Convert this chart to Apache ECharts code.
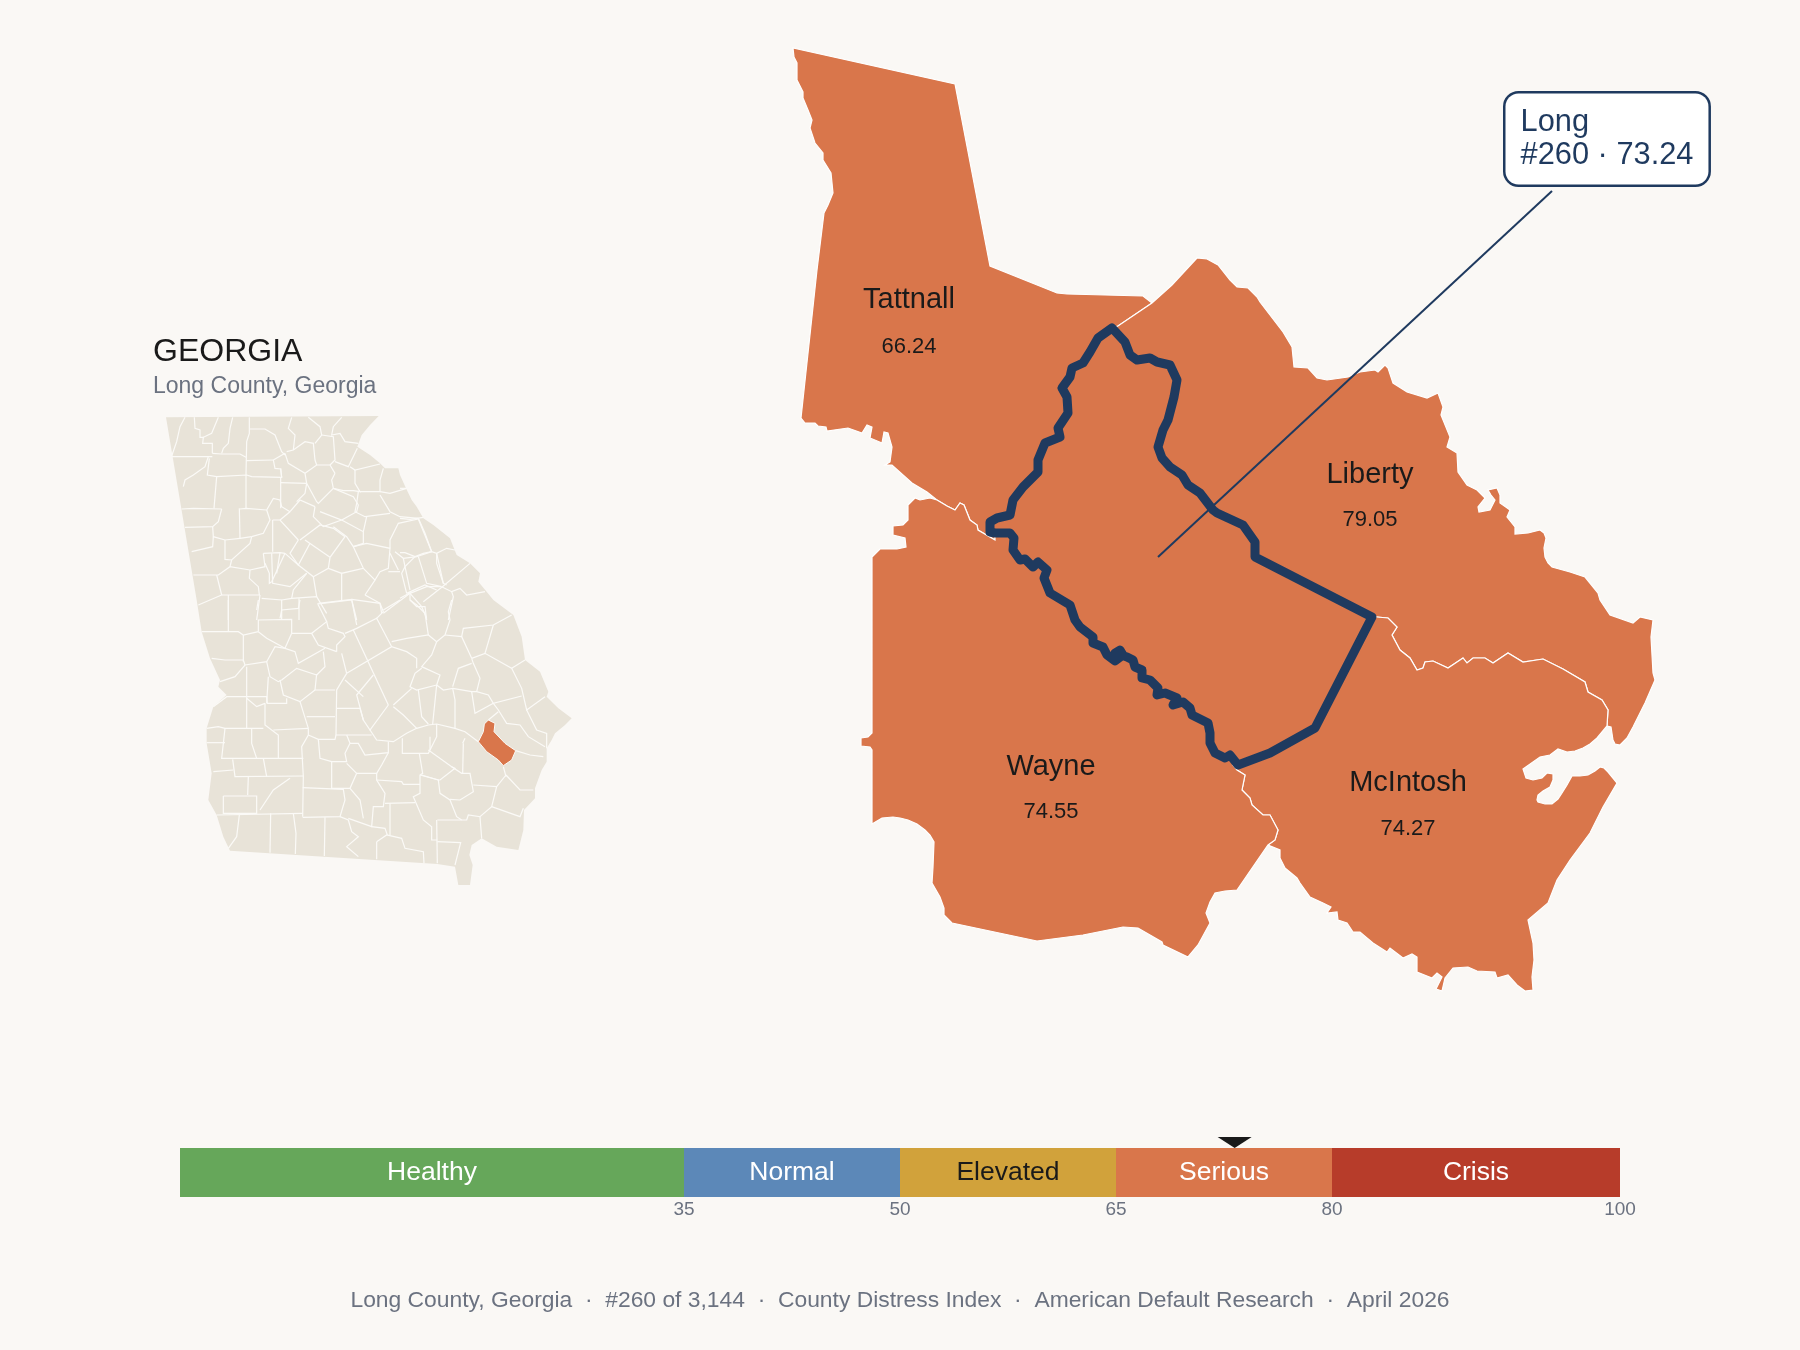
<!DOCTYPE html>
<html>
<head>
<meta charset="utf-8">
<title>Long County, Georgia</title>
<script src="https://cdn.jsdelivr.net/npm/echarts@6/dist/echarts.min.js"></script>
<style>
html,body{width:100%;height:100%;margin:0;padding:0;background:#faf8f5;}
#main{width:1800px;height:1350px;}
</style>
</head>
<body>
<div id="main"></div>
<script type="text/javascript">
// distress scale
var bandNames = ['Healthy', 'Normal', 'Elevated', 'Serious', 'Crisis'];
var bandWidths = [35, 15, 15, 15, 20];
var bandTicks = [35, 50, 65, 80, 100];
var markerScore = 73.24;

// neighbouring counties
var countyNames = ['Tattnall', 'Liberty', 'McIntosh', 'Wayne'];
var countyScores = ['66.24', '79.05', '74.27', '74.55'];
var countyNameAt = [[909, 300], [1370, 475], [1408, 783], [1051, 767]];
var countyScoreAt = [[909, 347], [1370, 520], [1408, 829], [1051, 812]];

var calloutText = 'Long\n#260 · 73.24';
var footerText = 'Long County, Georgia  ·  #260 of 3,144  ·  County Distress Index  ·  American Default Research  ·  April 2026';

// detail map boundaries, map units
var longNE = [[1112,328],[1125,342],[1130,355],[1137,360],[1150,358],[1157,362],[1170,365],[1177,380],[1174,397],[1168,420],[1163,430],[1158,447],[1162,458],[1170,467],[1182,475],[1188,485],[1200,493],[1213,510],[1217,513],[1243,525],[1255,542],[1255,557],[1372,617]];
var longSE = [[1372,617],[1315,728],[1270,753],[1238,765]];
var longSW = [[995,533],[1010,533],[1014,538],[1013,550],[1020,560],[1025,559],[1033,567],[1038,562],[1047,570],[1044,578],[1050,593],[1070,605],[1075,620],[1080,627],[1093,637],[1093,643],[1103,647],[1107,655],[1115,661],[1123,655],[1120,650],[1115,653],[1127,657],[1133,660],[1135,667],[1142,670],[1142,678],[1150,680],[1158,688],[1157,695],[1165,693],[1177,698],[1173,705],[1183,702],[1190,708],[1192,715],[1208,723],[1210,733],[1210,743],[1215,753],[1225,758],[1230,755],[1238,765]];
var longNW = [[995,533],[990,532],[990,522],[997,518],[1010,515],[1013,500],[1023,487],[1038,472],[1038,460],[1045,443],[1060,437],[1058,428],[1068,413],[1067,397],[1062,388],[1070,377],[1072,368],[1083,363],[1090,352],[1098,338],[1112,328]];
var tattnallOuter = [[1112,328],[1118,326],[1152,303],[1143,296],[1067,294],[1057,293],[990,266],[955,84],[793,48],[794,57],[797,63],[797,80],[803,92],[803,98],[808,110],[812,120],[810,128],[815,143],[823,153],[823,160],[831,173],[833,193],[828,205],[824,213],[817,270],[801,418],[805,423],[815,423],[818,426],[826,427],[827,431],[848,428],[862,433],[867,425],[872,427],[870,438],[882,443],[884,432],[888,433],[892,447],[890,462],[885,465],[892,465],[912,483],[927,492],[937,500]];
var wayneRiver = [[937,500],[947,506],[955,510],[960,503],[964,505],[970,520],[977,525],[978,530],[995,540],[995,533]];
var libertyOuter = [[1112,328],[1118,326],[1152,303],[1172,285],[1197,258],[1207,259],[1218,265],[1230,280],[1237,287],[1248,288],[1257,297],[1260,302],[1283,332],[1292,347],[1294,367],[1308,368],[1317,378],[1327,380],[1348,377],[1360,372],[1375,370],[1378,372],[1385,365],[1388,368],[1393,383],[1407,392],[1427,398],[1438,393],[1443,407],[1441,415],[1450,437],[1447,447],[1457,453],[1458,472],[1467,485],[1477,490],[1485,498],[1478,507],[1479,512],[1490,510],[1495,500],[1491,495],[1488,490],[1497,488],[1500,495],[1500,503],[1510,510],[1507,517],[1515,527],[1515,534],[1528,533],[1540,530],[1544,533],[1546,538],[1544,548],[1545,557],[1548,563],[1552,567],[1570,572],[1585,577],[1598,593],[1600,600],[1610,615],[1633,623],[1640,617],[1653,620],[1651,637],[1653,673],[1655,680],[1645,703],[1633,727],[1627,738],[1620,745],[1615,744],[1613,740],[1611,727],[1607,726]];
var libertyRiver = [[1372,617],[1377,617],[1388,618],[1397,627],[1392,635],[1400,650],[1410,658],[1417,670],[1423,668],[1425,662],[1433,661],[1448,668],[1463,658],[1467,663],[1473,658],[1485,658],[1493,663],[1508,653],[1523,662],[1543,659],[1563,669],[1585,682],[1588,692],[1602,700],[1608,710],[1607,726]];
var mcintoshCoast = [[1607,726],[1597,738],[1590,744],[1583,748],[1575,751],[1567,752],[1558,749],[1550,755],[1540,757],[1523,769],[1526,778],[1533,780],[1542,778],[1547,773],[1553,774],[1553,780],[1550,787],[1543,791],[1538,795],[1537,800],[1538,802],[1545,804],[1552,804],[1558,799],[1562,793],[1567,785],[1572,776],[1580,776],[1588,775],[1595,771],[1600,767],[1604,768],[1608,772],[1617,783],[1603,807],[1590,833],[1570,860],[1557,880],[1548,903],[1528,920],[1533,943],[1534,960],[1532,977],[1533,990],[1525,991],[1517,985],[1508,975],[1497,978],[1495,972],[1477,971],[1468,967],[1453,968],[1445,978],[1442,991],[1436,989],[1442,977],[1437,973],[1432,978],[1417,972],[1417,957],[1412,954],[1403,958],[1390,948],[1387,952],[1373,943],[1360,932],[1353,932],[1347,923],[1338,920],[1337,912],[1327,913],[1331,907],[1323,903],[1310,897],[1300,883],[1297,878],[1285,868],[1280,858],[1280,850],[1268,845]];
var mcintoshRiver = [[1268,845],[1275,840],[1278,830],[1270,815],[1263,815],[1252,805],[1250,798],[1242,790],[1245,775],[1237,770],[1233,765],[1238,765]];
var wayneOuter = [[1268,845],[1237,890],[1225,891],[1215,893],[1210,902],[1206,913],[1210,923],[1198,945],[1188,957],[1163,945],[1162,942],[1138,928],[1123,927],[1083,935],[1037,941],[952,923],[944,915],[944,908],[940,897],[932,883],[933,867],[934,842],[930,835],[925,830],[917,824],[908,820],[900,818],[893,817],[882,818],[872,824],[872,750],[870,747],[861,746],[861,738],[868,737],[872,733],[872,557],[880,549],[897,549],[906,547],[905,538],[893,535],[893,526],[903,525],[908,520],[908,505],[915,498],[920,500],[930,498],[937,500]];
var leaderLine = [[1552,191],[1158,557]];
var calloutAt = [1506,94];

// state map, 3x map units
var stateOutline = [[48,292],[686,288],[660,315],[635,345],[622,380],[660,405],[690,430],[705,445],[745,445],[750,465],[768,505],[785,540],[800,560],[820,595],[850,615],[900,655],[910,680],[920,705],[960,730],[990,760],[985,785],[1010,815],[1030,840],[1090,885],[1115,950],[1125,1020],[1170,1055],[1195,1115],[1190,1130],[1225,1165],[1265,1195],[1245,1215],[1215,1240],[1205,1260],[1190,1285],[1190,1325],[1175,1350],[1155,1405],[1155,1435],[1122,1470],[1120,1530],[1105,1590],[1040,1580],[995,1555],[965,1575],[958,1605],[968,1635],[960,1695],[925,1695],[915,1640],[862,1632],[240,1592],[220,1550],[200,1485],[175,1440],[185,1360],[170,1270],[170,1225],[190,1160],[230,1125],[205,1100],[210,1080],[180,1015],[155,935],[140,840]];
var stateLong = [[1015,1200],[1035,1210],[1032,1235],[1065,1270],[1097,1292],[1085,1320],[1060,1337],[1045,1320],[1010,1295],[985,1265],[1000,1235],[1003,1212]];
var northBorders = [
[[105,292],[90,320],[80,365],[65,408]],[[133,292],[135,325],[150,330],[150,352],[162,352]],[[205,292],[185,340],[160,352],[158,370],[187,370],[187,400]],
[[248,292],[240,325],[235,370],[220,385],[215,400]],[[298,292],[298,340],[290,365],[288,465]],[[298,327],[345,327],[375,345],[395,395],[405,405]],
[[65,410],[187,410]],[[175,410],[165,440],[130,465],[105,480],[100,500]],[[187,400],[215,402],[270,402],[288,412]],
[[178,415],[172,465],[200,470],[290,465],[305,470],[395,472],[392,445]],[[288,422],[370,420]],[[370,420],[375,445],[392,447],[395,472]],[[405,400],[370,420]],
[[392,488],[470,490]],[[392,472],[392,565]],[[200,470],[192,565]],[[288,465],[288,565]],[[95,567],[130,565],[215,567]],
[[215,567],[205,605],[188,620],[105,622]],[[268,565],[270,655]],[[188,620],[190,650],[225,660],[270,655]],[[190,650],[188,680],[125,695]],
[[305,650],[300,670],[245,720],[225,718],[225,660]],[[270,567],[288,565],[350,570]],[[350,570],[360,600],[340,640],[305,650]],[[270,655],[305,650]],
[[368,600],[368,695]],[[368,600],[390,600],[445,660]],[[350,570],[370,535],[390,540],[395,560],[420,575]],[[420,575],[450,540],[495,560]],
[[470,490],[465,520],[440,545]],[[465,460],[470,490],[500,545],[505,550],[550,505]],[[405,400],[415,430],[465,460],[500,435],[540,435],[555,460]],
[[410,395],[430,390],[465,365],[490,370],[495,420],[500,435]],[[430,390],[435,345],[415,325],[425,292]],[[475,292],[510,320],[515,345],[495,370]],
[[515,345],[550,350],[555,420],[540,435]],[[575,292],[550,320],[545,345],[570,340],[585,365],[625,370]],[[622,385],[595,440],[555,425]],
[[600,440],[615,450],[690,432]],[[555,460],[545,480],[550,505],[580,512],[610,512],[630,515],[615,490],[615,450]],[[630,515],[690,515],[690,480],[700,445]],
[[690,515],[720,520],[770,505]],[[690,525],[720,575],[750,590],[805,595]],[[625,515],[620,550],[615,575],[645,590],[720,580]],
[[550,505],[610,530],[625,555],[620,575],[575,600],[510,575]],[[495,560],[490,590],[520,620],[575,600]],[[390,600],[420,575]],[[575,600],[640,635],[650,590]],
[[550,620],[590,650],[610,680],[640,670],[640,635]],[[450,660],[510,615],[550,625],[585,650]],[[465,660],[540,712]],[[445,660],[420,700],[445,735],[480,670]],
[[405,700],[365,785]],[[340,700],[390,698],[405,700]],[[340,700],[345,740],[300,750],[240,740],[205,765],[130,765]],[[240,740],[245,720]],
[[300,750],[298,775],[325,800],[328,825]],[[345,730],[358,760],[358,790],[365,785]],[[365,700],[368,790],[420,800],[470,760]],[[390,698],[380,760]],
[[405,700],[445,735],[490,770],[500,830]],[[540,712],[535,745],[490,770]],[[585,650],[540,712]],[[610,680],[640,745],[575,760],[575,840]],[[575,760],[535,745]],
[[640,745],[675,780],[645,825]],[[610,680],[650,670],[720,685],[715,745],[690,755],[675,780]],[[720,685],[720,660],[745,610],[805,597]],[[805,597],[845,695]],
[[735,695],[760,715],[800,710],[845,695]],[[760,715],[765,740],[780,810]],[[715,755],[750,755]],[[720,700],[745,750]],[[200,765],[215,825],[145,855]],
[[215,825],[330,825]],[[235,825],[235,900]],[[330,825],[320,900]],[[335,835],[395,840],[395,900]],[[395,840],[425,835],[500,830],[530,880]],[[447,835],[447,900]],
[[425,835],[430,810],[470,760]],[[505,850],[605,838],[620,900]],[[605,838],[690,850],[695,880]],[[645,825],[690,850]],[[700,880],[780,820],[830,800],[870,800]],
[[780,820],[815,860],[830,895]],[[860,700],[880,790]],
[[750,595],[780,598],[820,592]],[[805,595],[825,640],[845,695]],[[750,698],[765,698],[795,710],[820,700],[845,695],[860,700],[890,685],[915,690]],
[[795,710],[765,740],[755,760],[770,820]],[[805,710],[830,790],[875,800]],[[860,700],[860,730],[880,790],[890,795]],[[960,730],[880,798],[820,845]],
[[875,800],[905,815],[930,805],[950,825],[1005,815]],[[905,815],[910,830],[895,900]],[[770,820],[825,795],[860,810]],[[750,835],[780,818],[780,840],[800,860],[825,860],[830,900]],
[[750,505],[768,505]]
];
var southBorders = [
[[235,0],[235,95]],[[155,95],[265,95],[280,105],[325,95]],[[325,95],[325,60],[425,58],[425,100]],[[320,30],[325,0]],[[390,55],[395,30],[445,25],[450,0]],
[[425,100],[485,100],[530,65],[505,15],[503,10]],[[325,95],[350,115],[405,145]],[[280,105],[280,185]],[[185,175],[225,180],[280,180],[285,195]],[[405,145],[425,100]],
[[405,145],[375,140],[350,185],[285,195],[255,230],[210,245]],[[350,185],[360,230],[385,245],[395,240]],[[405,145],[435,155],[445,190],[525,145]],[[485,100],[505,135],[560,155]],
[[530,65],[535,85],[580,100],[585,110],[560,135],[560,155]],[[585,100],[620,85],[680,55],[725,140]],[[505,12],[605,0],[620,75]],[[610,90],[715,315]],
[[590,220],[725,140],[770,155],[800,175],[800,205]],[[680,55],[700,35],[690,10]],[[700,30],[750,0]],[[725,125],[770,115],[835,105],[860,125]],[[835,105],[825,40],[800,15],[780,0]],
[[860,125],[885,105],[900,60],[895,35],[905,0]],[[885,105],[935,110],[965,175]],[[935,110],[940,85],[1030,75],[1085,45]],[[1030,75],[1005,160]],
[[965,175],[1005,160],[1085,205],[1125,180]],[[965,175],[970,190],[990,235],[980,275]],[[1085,205],[1115,265],[1130,330],[1185,290]],[[860,125],[845,165],[815,200],[870,225],[860,255]],
[[815,205],[795,220],[780,260],[800,270],[860,255]],[[860,255],[880,270],[908,265],[915,300],[915,385]],[[908,265],[965,275],[980,275],[1015,285],[1030,310],[1115,288]],
[[965,275],[975,340],[1030,310]],[[908,260],[925,205],[965,190]],[[1030,310],[1045,330],[1070,370],[1110,375],[1135,410],[1185,440]],[[1130,330],[1160,390],[1190,400],[1190,445]],
[[1045,335],[1015,360]],[[730,315],[785,265]],[[715,315],[660,390],[640,360],[620,285],[670,225]],
[[660,390],[680,420],[730,425],[770,400],[800,385],[835,375],[860,372],[915,385],[945,395],[985,425]],[[730,320],[760,345],[800,385]],[[805,270],[815,350],[835,372]],[[860,255],[848,372]],
[[590,220],[560,270],[558,405],[595,405],[665,405]],[[585,240],[640,290]],[[560,325],[630,325],[640,360]],[[500,222],[495,270],[555,270]],[[390,240],[400,285],[450,305],[495,270]],
[[500,225],[440,205],[395,240]],[[520,155],[525,200],[500,225]],[[575,160],[590,220]],[[290,200],[290,385]],[[190,320],[230,290],[350,290],[352,310],[410,310],[410,295]],
[[290,295],[320,320],[345,310]],[[345,310],[345,375],[385,405],[385,475]],[[355,230],[350,310]],[[450,305],[475,385]],[[470,350],[555,350]],[[170,385],[205,380],[225,385],[340,385]],[[370,390],[475,385]],
[[225,385],[215,475],[460,475]],[[170,428],[225,428]],[[305,385],[305,430],[320,475]],[[475,385],[475,405],[455,440],[460,530],[458,650]],[[475,405],[505,418],[555,418],[558,405]],
[[505,418],[510,475],[545,485],[590,485],[585,460],[600,430],[590,405]],[[600,430],[625,430],[645,465],[715,458],[715,425]],[[715,458],[695,495],[680,520],[620,520],[590,490]],
[[545,485],[545,565],[600,565],[620,520]],[[248,478],[255,530],[460,528]],[[190,515],[250,510]],[[340,475],[350,530]],[[295,530],[293,585]],
[[220,588],[320,588],[320,640],[220,640],[220,588]],[[200,645],[458,640]],[[420,535],[370,570],[330,630]],[[458,563],[580,568],[585,600],[570,650],[458,652]],[[362,640],[360,758]],
[[430,640],[438,700],[436,762]],[[268,645],[260,710],[235,745]],[[525,652],[523,768]],[[570,650],[595,660],[605,695],[625,710],[590,740],[625,770]],[[600,565],[630,600],[640,655]],
[[680,520],[680,540],[705,580],[700,620],[670,620],[665,680],[595,655]],[[680,540],[755,545],[760,553],[810,553]],[[705,610],[795,608]],[[720,610],[720,705]],[[665,680],[705,685],[712,705]],
[[680,725],[710,705],[755,715],[765,745],[820,755],[822,790]],[[680,725],[680,778]],[[757,415],[757,460],[835,460],[860,410],[860,372]],[[835,450],[905,500],[915,505],[870,540],[865,540],[815,525]],
[[808,460],[818,520],[810,525],[810,580],[790,590],[820,660],[845,680],[845,720],[862,720]],[[860,660],[862,790]],[[862,660],[950,660],[955,645],[990,650],[995,715]],[[862,725],[932,728],[915,795]],
[[810,525],[865,540],[870,580],[900,600],[920,650],[935,660]],[[905,500],[935,520],[960,520],[970,575],[930,600],[900,598]],[[940,430],[938,520]],[[945,415],[938,430]],
[[970,555],[1040,560],[1068,525]],[[1068,525],[1110,570],[1150,570]],[[1040,560],[1025,620],[990,650]],[[1025,620],[1110,650],[1120,625]],[[1060,500],[1068,530]],
[[840,410],[840,450]],[[1097,452],[1140,465],[1180,470]]
];

var bandColors = ['#66a75a', '#5c88b8', '#d1a23b', '#d9764b', '#b73c2a'];
var bandTextColors = ['#ffffff', '#ffffff', '#1a1a1a', '#ffffff', '#ffffff'];
var paper = '#faf8f5', orange = '#d9764b', navy = '#1f3a5f', land = '#e8e3d8', ink = '#1a1a1a', grey = '#6b7280';
var fontName = '"Liberation Sans", Arial, sans-serif';

function rev(a) { return a.slice().reverse(); }
function feature(name, ring) {
    return { type: 'Feature', properties: { name: name }, geometry: { type: 'Polygon', coordinates: [ring] } };
}
function ring() { return [].concat.apply([], arguments); }

echarts.registerMap('detail', { type: 'FeatureCollection', features: [
    feature('Tattnall', ring(tattnallOuter, wayneRiver, longNW.slice(1))),
    feature('Liberty', ring(libertyOuter, rev(libertyRiver), rev(longNE))),
    feature('McIntosh', ring(libertyRiver, mcintoshCoast, mcintoshRiver, rev(longSE))),
    feature('Wayne', ring(wayneRiver, longSW, rev(mcintoshRiver), wayneOuter)),
    feature('Long', ring(longNE, longSE, rev(longSW), longNW))
] });
echarts.registerMap('state', { type: 'FeatureCollection', features: [
    feature('Georgia', stateOutline),
    feature('Long', stateLong)
] });

var flat = { project: function (p) { return p; }, unproject: function (p) { return p; } };
var stateLines = northBorders.concat(southBorders.map(function (line) {
    return line.map(function (p) { return [p[0], p[1] + 840]; });
}));
var hidden = { color: 'rgba(0,0,0,0)', opacity: 1 };

var series = [{
    type: 'lines', coordinateSystem: 'geo', geoIndex: 1, polyline: true, silent: true, z: 3,
    lineStyle: { color: '#fbfaf7', width: 1.2, opacity: 1 },
    data: stateLines.map(function (l) { return { coords: l }; })
}, {
    type: 'lines', coordinateSystem: 'geo', geoIndex: 0, silent: true, z: 4,
    lineStyle: { color: navy, width: 2, opacity: 1 },
    data: [{ coords: leaderLine }]
}, {
    type: 'scatter', coordinateSystem: 'geo', geoIndex: 0, silent: true, z: 5, symbolSize: 1,
    itemStyle: hidden,
    label: { show: true, position: 'inside', align: 'center', verticalAlign: 'middle', fontFamily: fontName, fontSize: 29, color: ink,
        formatter: function (p) { return p.data[2]; } },
    data: countyNames.map(function (n, i) { return [countyNameAt[i][0], countyNameAt[i][1], n]; })
}, {
    type: 'scatter', coordinateSystem: 'geo', geoIndex: 0, silent: true, z: 5, symbolSize: 1,
    itemStyle: hidden,
    label: { show: true, position: 'inside', align: 'center', verticalAlign: 'middle', fontFamily: fontName, fontSize: 22, color: ink,
        formatter: function (p) { return p.data[2]; } },
    data: countyScores.map(function (n, i) { return [countyScoreAt[i][0], countyScoreAt[i][1], n]; })
}, {
    type: 'scatter', coordinateSystem: 'geo', geoIndex: 0, silent: true, z: 6, symbolSize: 1,
    itemStyle: hidden,
    label: { show: true, position: [0, 0], align: 'left', verticalAlign: 'top', fontFamily: fontName, fontSize: 30.8, lineHeight: 33, color: navy,
        backgroundColor: '#ffffff', borderColor: navy, borderWidth: 2.5, borderRadius: 13, padding: [12.5, 15, 12.5, 15],
        formatter: calloutText },
    data: [calloutAt]
}];

bandNames.forEach(function (name, i) {
    series.push({
        type: 'bar', name: name, stack: 'bands', barWidth: '100%', xAxisIndex: 0, yAxisIndex: 0, silent: true,
        itemStyle: { color: bandColors[i] },
        label: { show: true, position: 'inside', formatter: name, fontFamily: fontName, fontSize: 26.5, color: bandTextColors[i] },
        data: [bandWidths[i]]
    });
});
series.push({
    type: 'scatter', xAxisIndex: 0, yAxisIndex: 1, silent: true, clip: false, z: 7,
    symbol: 'triangle', symbolRotate: 180, symbolSize: [34, 11], symbolOffset: [0, -5.5],
    itemStyle: { color: ink, opacity: 1 },
    data: [[markerScore, 1]]
});

var myChart = echarts.init(document.getElementById('main'), null, { renderer: 'canvas' });
myChart.setOption({
    animation: false,
    backgroundColor: paper,
    title: [
        { text: 'GEORGIA', left: 153, top: 336, padding: 0, textStyle: { fontFamily: fontName, fontSize: 32, fontWeight: 'normal', color: ink } },
        { text: 'Long County, Georgia', left: 153, top: 375, padding: 0, textStyle: { fontFamily: fontName, fontSize: 23, fontWeight: 'normal', color: grey } },
        { text: footerText, left: 'center', top: 1289, padding: 0, textStyle: { fontFamily: fontName, fontSize: 22.85, fontWeight: 'normal', color: grey } }
    ],
    geo: [{
        map: 'detail', projection: flat, roam: false, silent: true,
        boundingCoords: [[0, 0], [1800, 1350]], left: 0, top: 0, width: 1800, height: 1350,
        label: { show: false },
        itemStyle: { areaColor: orange, borderColor: '#ffffff', borderWidth: 1.2 },
        emphasis: { disabled: true },
        regions: [{ name: 'Long', itemStyle: { areaColor: orange, borderColor: navy, borderWidth: 9, borderJoin: 'round' } }]
    }, {
        map: 'state', projection: flat, roam: false, silent: true,
        boundingCoords: [[0, 0], [1350, 1800]], left: 150, top: 320, width: 450, height: 600,
        label: { show: false },
        itemStyle: { areaColor: land, borderColor: land, borderWidth: 0 },
        emphasis: { disabled: true },
        regions: [{ name: 'Long', itemStyle: { areaColor: orange, borderColor: '#fbfaf7', borderWidth: 1 } }]
    }],
    grid: { left: 180, top: 1148, width: 1440, height: 49 },
    xAxis: {
        type: 'value', min: 0, max: 100, splitLine: { show: false }, axisLine: { show: false }, axisTick: { show: false },
        axisLabel: { customValues: bandTicks, margin: 3, fontFamily: fontName, fontSize: 19, color: grey }
    },
    yAxis: [
        { type: 'category', data: ['Index'], show: false },
        { type: 'value', min: 0, max: 1, show: false }
    ],
    series: series
});
</script>
</body>
</html>
